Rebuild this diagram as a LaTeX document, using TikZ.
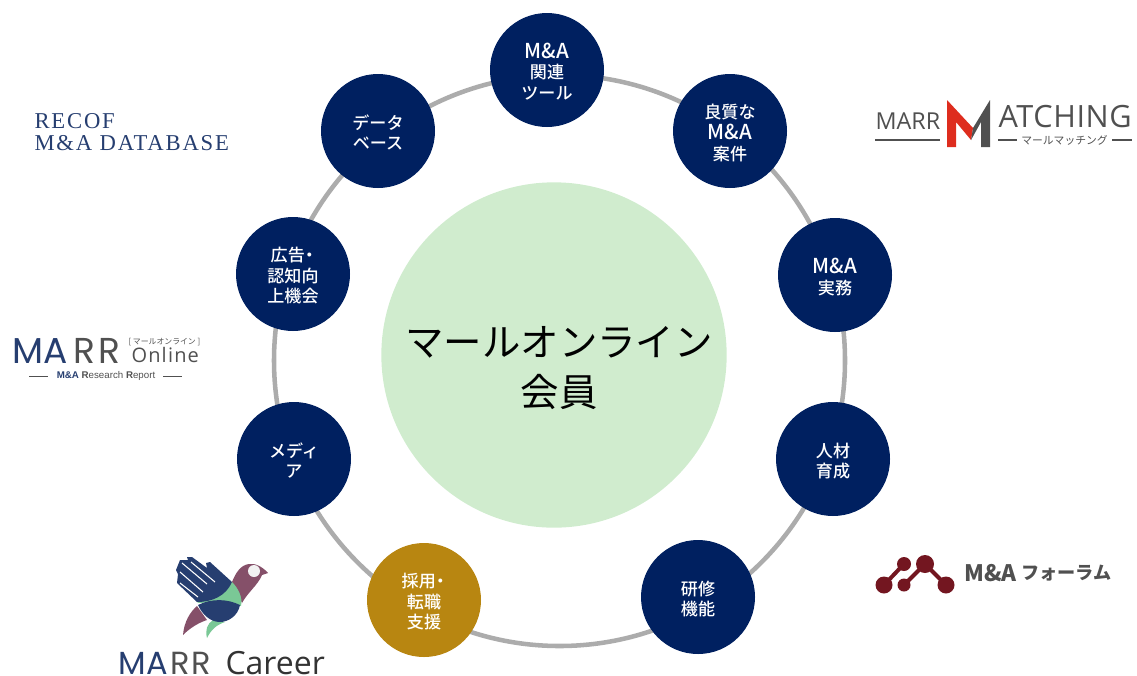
\documentclass[tikz,border=0pt]{standalone}
\usepackage{fontspec}
\setmainfont{Liberation Sans}
\newfontfamily\jpfont{Noto Sans CJK JP}
\newfontfamily\jpmedium{Noto Sans CJK JP Medium}
\newfontfamily\opensans{Open Sans}
\newfontfamily\poppins{Poppins}
\newfontfamily\logoserif{Liberation Serif}
\definecolor{navyfill}{RGB}{0,32,96}
\definecolor{goldfill}{RGB}{184,134,17}
\definecolor{ringgray}{RGB}{172,172,172}
\definecolor{centergreen}{RGB}{208,236,206}
\definecolor{logonavy}{RGB}{38,62,112}
\definecolor{logogray}{RGB}{80,80,80}
\definecolor{logored}{RGB}{222,45,30}
\definecolor{forumred}{RGB}{115,22,32}
\definecolor{birdplum}{RGB}{133,80,105}
\definecolor{birdgreen}{RGB}{122,200,150}
\newcommand{\mna}{{\fontsize{15.4pt}{15.4pt}\selectfont M\&A}}
\newcommand{\satlines}[1]{\raisebox{-3.2pt}[\height][\depth]{\begin{tabular}{@{}c@{}}#1\end{tabular}}}
\tikzset{every picture/.style={line width=0.75pt},
  sat/.style={circle,fill=navyfill,minimum size=85.5pt,inner sep=0pt,text=white,align=center,font=\jpmedium\fontsize{12.8pt}{15.4pt}\selectfont},
  satgold/.style={sat,fill=goldfill},
  logotext/.style={inner sep=0pt,anchor=west}}

\begin{document}
\begin{tikzpicture}[x=0.75pt,y=0.75pt,yscale=-1,xscale=1]
	\useasboundingbox (0,0) rectangle (1137,675);

	%Shape: Ring
	\draw [ringgray,line width=3.4pt] (559.5,360.5) circle [radius=285.5];
	%Shape: Center
	\node (center) [circle,fill=centergreen,minimum size=259pt,inner sep=0pt] at (554,355) {};
	\node (centerlabel) [inner sep=0pt,align=center,font=\jpfont\fontsize{28.8pt}{38pt}\selectfont] at (559,368) {マールオンライン\\会員};

	% Satellites
	\node (tool) [sat] at (547,70) {\satlines{\mna\\関連\\ツール}};
	\node (deal) [sat] at (730,131) {\satlines{良質な\\\mna\\案件}};
	\node (work) [sat] at (835,275) {\satlines{\mna\\実務}};
	\node (talent) [sat] at (833,459) {\satlines{人材\\育成}};
	\node (training) [sat] at (698,597) {\satlines{研修\\機能}};
	\node (career) [satgold] at (424,600) {\satlines{採用\kern-3pt・\kern-2pt\\転職\\支援}};
	\node (media) [sat] at (294,459) {\satlines{メディ\\ア}};
	\node (ad) [sat] at (293,274) {\satlines{広告\kern-3pt・\kern-2pt\\認知向\\上機会}};
	\node (data) [sat] at (378,131) {\satlines{データ\\ベース}};

	% RECOF logo
	\node (recof) [logotext,text=logonavy,align=left,font=\logoserif\fontsize{17pt}{16.5pt}\selectfont] at (34,132.5) {\addfontfeature{LetterSpace=8}RECOF\\\addfontfeature{LetterSpace=8}M\&A DATABASE};

	% Matching logo
	\node (matchmarr) [logotext,text=logogray,font=\opensans\fontsize{17.5pt}{17.5pt}\selectfont] at (875,121) {MARR};
	\draw [logogray,line width=1pt] (875,140) -- (940,140);
	\fill [logored] (947,100) -- (973,128) -- (971,140) -- (956,122) -- (956,147) -- (947,147) -- cycle;
	\fill [logogray] (990,100) -- (990,147) -- (981,147) -- (981,122) -- (971,140) -- (973,128) -- cycle;
	\node (matchname) [logotext,text=logogray,font=\opensans\fontsize{23pt}{23pt}\selectfont] at (998,117) {\addfontfeature{LetterSpace=2}ATCHING};
	\draw [logogray,line width=1pt] (998,140) -- (1017,140) (1112,140) -- (1132,140);
	\node (matchkana) [text=logogray,inner sep=0pt,font=\jpfont\fontsize{8.1pt}{8pt}\selectfont] at (1064.5,140) {マールマッチング};

	% Online logo
	\node (onlinema) [logotext,text=logonavy,font=\poppins\fontsize{27pt}{27pt}\selectfont] at (12,351) {MA};
	\node (onlinerr) [logotext,text=logogray,font=\poppins\fontsize{27pt}{27pt}\selectfont] at (73,351) {\addfontfeature{LetterSpace=8}RR};
	\node (onlinekana) [logotext,text=logogray,font=\jpfont\fontsize{5.9pt}{6pt}\selectfont] at (128,342) {[ マールオンライン ]};
	\node (onlinename) [logotext,text=logogray,font=\opensans\fontsize{15pt}{15pt}\selectfont] at (131,355) {\addfontfeature{LetterSpace=6}Online};
	\draw [logogray] (29,376) -- (48,376) (163,376) -- (182,376);
	\node (onlinesub) [text=logogray,inner sep=0pt,font=\fontsize{7.3pt}{7pt}\selectfont] at (106,376) {\textbf{\textcolor{logonavy}{M\&A} R}esearch \textbf{R}eport};

	% Career logo
	\fill [birdplum] (183,635) .. controls (184,622) and (190,612) .. (197,606) -- (207,620) .. controls (198,623) and (190,628) .. (183,635) -- cycle;
	\fill [birdgreen] (207,638) .. controls (205,630) and (207,624) .. (213,620) -- (225,622) .. controls (216,625) and (211,630) .. (207,638) -- cycle;
	\fill [birdplum] (232,582) .. controls (236,572) and (241,565) .. (249,564) .. controls (254,563) and (262,566) .. (268,573) -- (262,575) .. controls (258,585) and (248,592) .. (242,603) -- cycle;
	\fill [birdgreen] (197,603) -- (232,582) .. controls (238,588) and (243,597) .. (241,606) -- (220,602) -- cycle;
	\fill [logonavy] (198,605) .. controls (212,598) and (228,599) .. (240,605) .. controls (238,616) and (228,622) .. (220,622) .. controls (210,622) and (202,614) .. (198,605) -- cycle;
	\fill [logonavy,line join=round] (232,582) -- (210,562) -- (206,563) -- (207,568) -- (192,557) -- (187,557) -- (188,560) -- (180,560) -- (176,570) -- (178,574) -- (177,583) -- (197,602) .. controls (212,602) and (226,596) .. (232,582) -- cycle;
	\draw [white,line width=0.8pt] (182,563) -- (207,584) (191,562) -- (215,582) (180,572) -- (203,592) (180,583) -- (198,597);
	\fill [white!90!gray] (254,571) circle [radius=6];
	\node (careerma) [logotext,text=logonavy,font=\poppins\fontsize{24pt}{24pt}\selectfont] at (118,663) {MA};
	\node (careerrr) [logotext,text=logogray,font=\poppins\fontsize{24pt}{24pt}\selectfont] at (170,663) {\addfontfeature{LetterSpace=6}RR};
	\node (careername) [logotext,text=black!80,font=\opensans\fontsize{24pt}{24pt}\selectfont] at (225,663) {Career};

	% Forum logo
	\draw [forumred,line width=3pt] (884,585) -- (904,564) (904,585) -- (925,564) -- (946,585);
	\fill [forumred] (884,585) circle [radius=8.5] (904,564) circle [radius=7] (904,585) circle [radius=6.5] (925,564) circle [radius=9] (946,585) circle [radius=8.5];
	\node (forumma) [logotext,text=logogray,font=\jpfont\bfseries\fontsize{17pt}{17pt}\selectfont] at (964,573) {M\&A};
	\node (forumname) [logotext,text=logogray,font=\jpfont\bfseries\fontsize{13.6pt}{14pt}\selectfont] at (1021,573) {フォーラム};

	\end{tikzpicture}
\end{document}
